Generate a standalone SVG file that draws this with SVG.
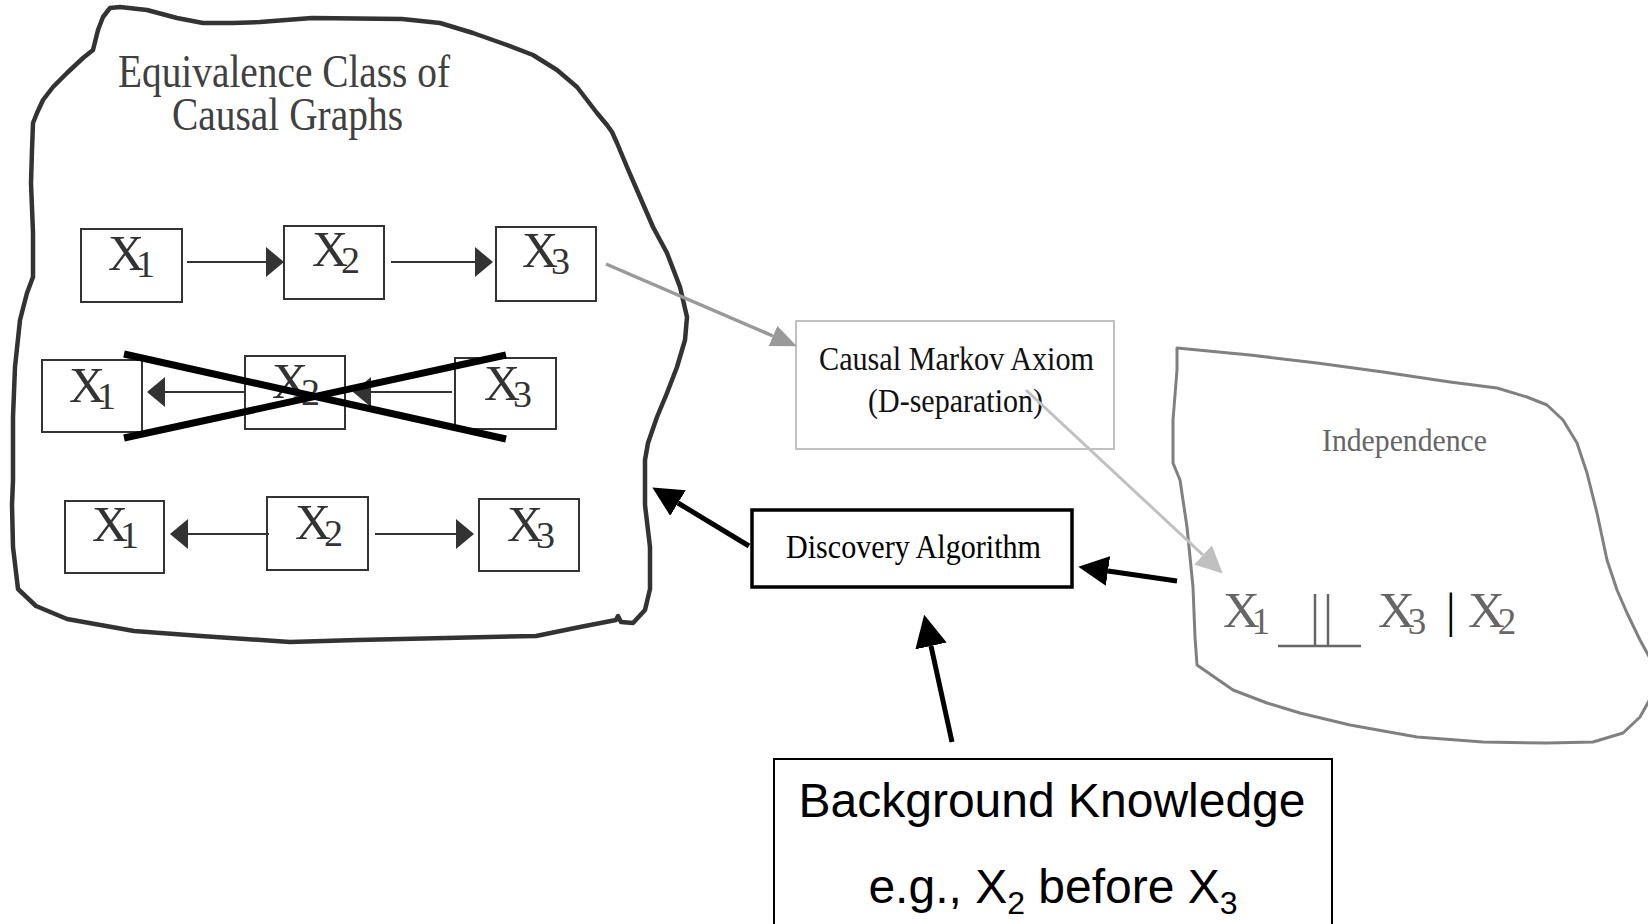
<svg xmlns="http://www.w3.org/2000/svg" width="1648" height="924" viewBox="0 0 1648 924">
<style>
.serif{font-family:"Liberation Serif","Times New Roman",serif}
.sans{font-family:"Liberation Sans",Arial,sans-serif}
.box{fill:#fff;stroke:#333;stroke-width:2}
.xl{font-family:"Liberation Serif","Times New Roman",serif;font-size:50px;fill:#333}
.sub{font-size:38px}
.gx{font-family:"Liberation Serif","Times New Roman",serif;font-size:51px;fill:#666}
.gsub{font-size:37px}
.dk{stroke:#333;stroke-width:2;fill:none;marker-end:url(#ah-dk)}
.blk{stroke:#000;stroke-width:5;fill:none}
</style>
<defs>
<marker id="ah-dk" markerUnits="userSpaceOnUse" markerWidth="18" markerHeight="30" refX="0" refY="15" orient="auto" viewBox="0 0 18 30"><path d="M0,0 L18,15 L0,30 Z" fill="#333"/></marker>
<marker id="ah-gray" markerUnits="userSpaceOnUse" markerWidth="26" markerHeight="22" refX="0" refY="11" orient="auto" viewBox="0 0 26 22"><path d="M0,0 L26,11 L0,22 Z" fill="#999"/></marker>
<marker id="ah-light" markerUnits="userSpaceOnUse" markerWidth="27" markerHeight="26" refX="0" refY="13" orient="auto" viewBox="0 0 27 26"><path d="M0,0 L27,13 L0,26 Z" fill="#c0c0c0"/></marker>
<marker id="ah-blk" markerUnits="userSpaceOnUse" markerWidth="30" markerHeight="30" refX="0" refY="15" orient="auto" viewBox="0 0 30 30"><path d="M0,0 L30,15 L0,30 Z" fill="#000"/></marker>
<marker id="ah-blk2" markerUnits="userSpaceOnUse" markerWidth="32" markerHeight="32" refX="0" refY="16" orient="auto" viewBox="0 0 32 32"><path d="M0,0 L32,16 L0,32 Z" fill="#000"/></marker>
</defs>
<rect width="1648" height="924" fill="#fff"/>

<g id="equivalence-class">
<path d="M110,8 L120,7 L147,10 L177,18 L203,23 L233,23 L260,22 L312,18 L402,19 L440,23 L473,33 L507,45 L533,55 L557,70 L577,87 L587,100 L597,113 L607,125 L612,132 L617,143 L627,167 L640,197 L653,227 L667,253 L680,287 L687,317 L685,340 L677,367 L667,393 L657,417 L648,443 L645,460 L645,505 L650,547 L650,589 L645,610 L633,623 L621,622 L618,616 L616,620 L580,627 L536,636 L446,638 L357,640 L290,642 L201,636 L134,631 L67,619 L36,606 L18,589 L13,547 L12,505 L13,480 L13,417 L15,367 L20,320 L27,293 L33,277 L33,233 L31,183 L32,150 L33,123 L37,113 L43,100 L53,87 L67,73 L83,58 L93,50 L98,30 L103,17 Z" fill="none" stroke="#333" stroke-width="4.5" stroke-linejoin="round"/>
<text class="serif" x="118" y="87" font-size="47" fill="#404040" textLength="332" lengthAdjust="spacingAndGlyphs">Equivalence Class of</text>
<text class="serif" x="172" y="130" font-size="47" fill="#404040" textLength="231" lengthAdjust="spacingAndGlyphs">Causal Graphs</text>
</g>

<g id="r1-x1"><rect class="box" x="81" y="229" width="101" height="73"/><text class="xl" x="108" y="270">X<tspan class="sub" dx="-8" dy="7">1</tspan></text></g>
<g id="r1-x2"><rect class="box" x="284" y="226" width="100" height="73"/><text class="xl" x="312" y="266">X<tspan class="sub" dx="-7" dy="7">2</tspan></text></g>
<g id="r1-x3"><rect class="box" x="496" y="227" width="100" height="74"/><text class="xl" x="522" y="267">X<tspan class="sub" dx="-7" dy="7">3</tspan></text></g>

<g id="r2-x1"><rect class="box" x="42" y="360" width="100" height="72"/><text class="xl" x="69" y="402">X<tspan class="sub" dx="-8" dy="7">1</tspan></text></g>
<g id="r2-x2"><rect class="box" x="245" y="356" width="100" height="73"/><text class="xl" x="272" y="398">X<tspan class="sub" dx="-7" dy="7">2</tspan></text></g>
<g id="r2-x3"><rect class="box" x="455" y="358" width="101" height="71"/><text class="xl" x="484" y="400">X<tspan class="sub" dx="-7" dy="7">3</tspan></text></g>

<g id="r3-x1"><rect class="box" x="65" y="501" width="99" height="72"/><text class="xl" x="92" y="541">X<tspan class="sub" dx="-8" dy="7">1</tspan></text></g>
<g id="r3-x2"><rect class="box" x="267" y="497" width="101" height="73"/><text class="xl" x="295" y="539">X<tspan class="sub" dx="-7" dy="7">2</tspan></text></g>
<g id="r3-x3"><rect class="box" x="479" y="499" width="100" height="72"/><text class="xl" x="507" y="541">X<tspan class="sub" dx="-7" dy="7">3</tspan></text></g>

<g id="causal-markov">
<rect x="796" y="321" width="318" height="128" fill="#fff" stroke="#c0c0c0" stroke-width="2"/>
<text class="serif" x="819" y="370" font-size="33" fill="#111" textLength="275" lengthAdjust="spacingAndGlyphs">Causal Markov Axiom</text>
<text class="serif" x="868" y="412" font-size="33" fill="#111" textLength="175" lengthAdjust="spacingAndGlyphs">(D-separation)</text>
</g>

<g id="discovery">
<rect x="752" y="510" width="320" height="77" fill="#fff" stroke="#000" stroke-width="3.5"/>
<text class="serif" x="786" y="558" font-size="33" fill="#000" textLength="255" lengthAdjust="spacingAndGlyphs">Discovery Algorithm</text>
</g>

<g id="independence">
<path d="M1177,348 L1250,355 L1317,363 L1383,372 L1450,382 L1497,388 L1527,397 L1547,405 L1563,420 L1577,443 L1587,473 L1597,513 L1607,560 L1617,590 L1627,613 L1640,640 L1652,662 L1655,690 L1640,717 L1623,733 L1593,742 L1547,743 L1483,742 L1417,737 L1350,725 L1300,713 L1267,703 L1233,690 L1197,665 L1195,637 L1193,587 L1187,527 L1180,480 L1173,463 L1173,420 L1177,370 Z" fill="none" stroke="#808080" stroke-width="3" stroke-linejoin="round"/>
<text class="serif" x="1322" y="451" font-size="31" fill="#666" textLength="165" lengthAdjust="spacingAndGlyphs">Independence</text>
<text class="gx" x="1223" y="627">X<tspan class="gsub" dx="-8" dy="7">1</tspan></text>
<g stroke="#666" stroke-width="2.5">
<line x1="1315" y1="594" x2="1315" y2="645"/>
<line x1="1328" y1="594" x2="1328" y2="645"/>
<line x1="1278" y1="646" x2="1361" y2="646"/>
</g>
<text class="gx" x="1378" y="627">X<tspan class="gsub" dx="-7" dy="7">3</tspan></text>
<text class="serif" x="1446" y="627" font-size="48" fill="#000">|</text>
<text class="gx" x="1468" y="627">X<tspan class="gsub" dx="-7" dy="7">2</tspan></text>
</g>

<g id="background">
<rect x="774" y="759" width="558" height="200" fill="#fff" stroke="#000" stroke-width="2"/>
<text class="sans" x="1052" y="817" font-size="48" fill="#000" text-anchor="middle">Background Knowledge</text>
<text class="sans" x="1053" y="903" font-size="48" fill="#000" text-anchor="middle">e.g., X<tspan font-size="32" dy="11">2</tspan><tspan dy="-11"> before X</tspan><tspan font-size="32" dy="11">3</tspan></text>
</g>

<g id="connectors">
<line class="dk" x1="187" y1="262" x2="266" y2="262"/>
<line class="dk" x1="391" y1="262" x2="475" y2="262"/>
<line class="dk" x1="246" y1="392" x2="165" y2="392"/>
<line class="dk" x1="452" y1="392" x2="371" y2="392"/>
<line class="dk" x1="269" y1="534" x2="188" y2="534"/>
<line class="dk" x1="375" y1="534" x2="456" y2="534"/>
<line x1="124" y1="354" x2="506" y2="439" stroke="#000" stroke-width="7"/>
<line x1="124" y1="438" x2="506" y2="355" stroke="#000" stroke-width="7"/>
<line x1="606" y1="264" x2="773" y2="336" stroke="#999" stroke-width="3.5" marker-end="url(#ah-gray)"/>
<line x1="1026" y1="390" x2="1203" y2="555" stroke="#c0c0c0" stroke-width="3" marker-end="url(#ah-light)"/>
<line class="blk" x1="1177" y1="581" x2="1108" y2="571" marker-end="url(#ah-blk)"/>
<line class="blk" x1="749" y1="546" x2="678" y2="503" marker-end="url(#ah-blk)"/>
<line class="blk" x1="952" y1="742" x2="931" y2="646" stroke-width="6" marker-end="url(#ah-blk2)"/>
</g>
</svg>
